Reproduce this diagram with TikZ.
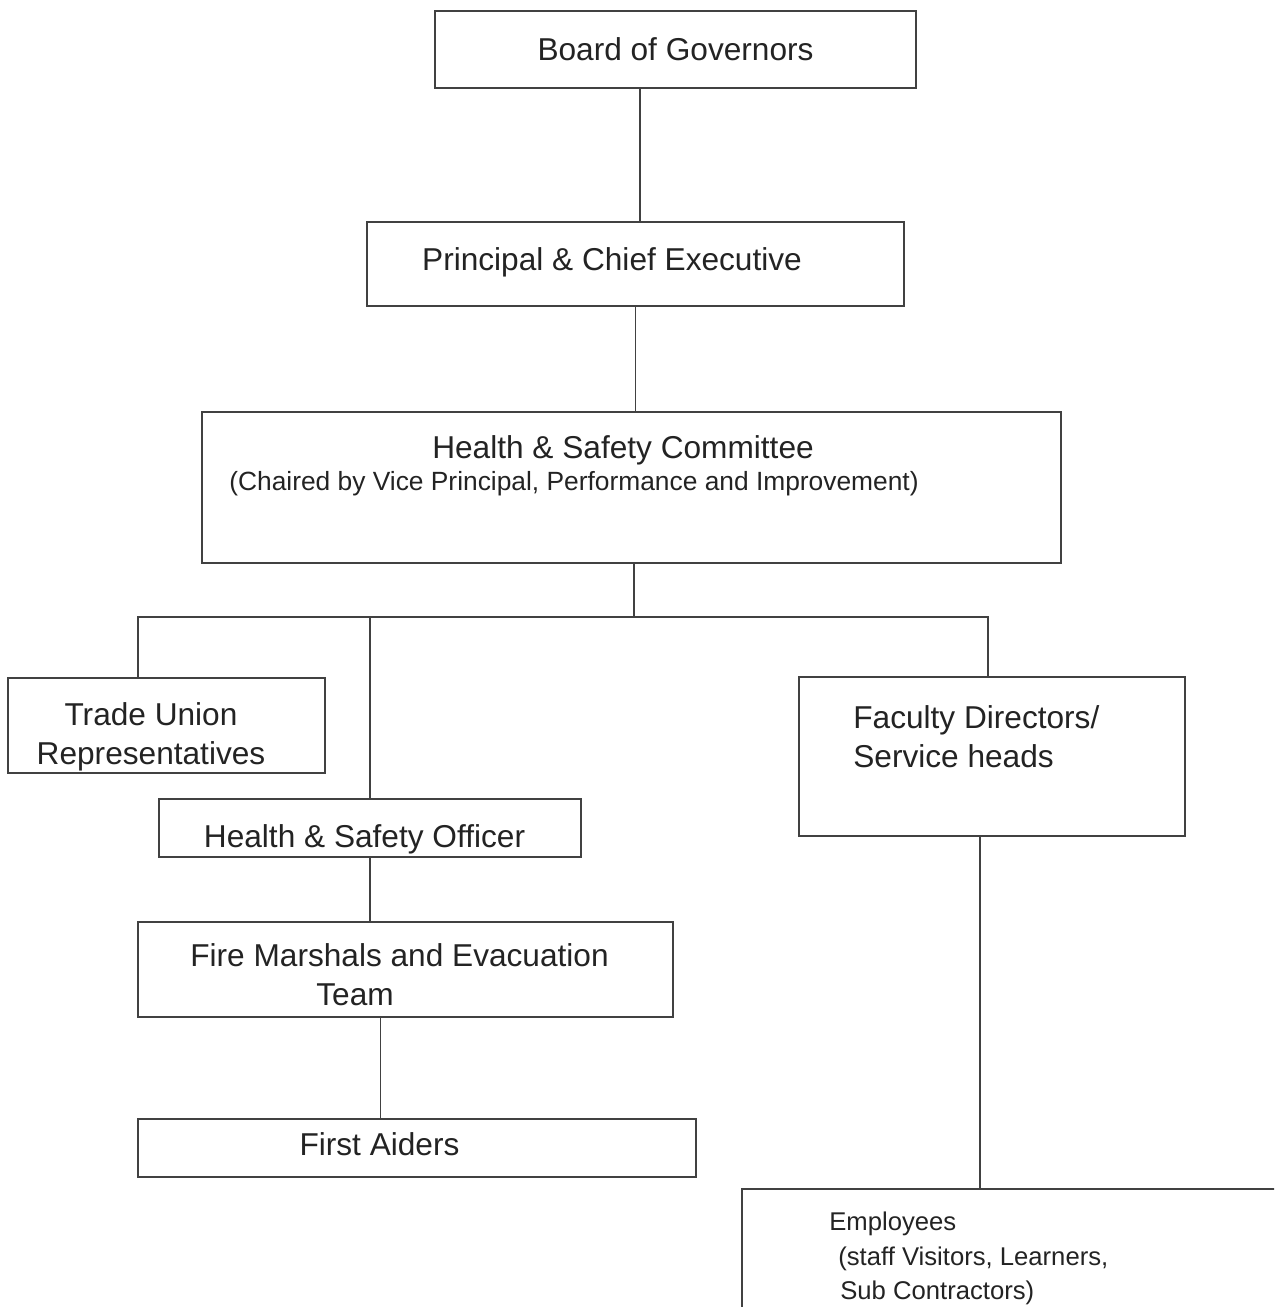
\documentclass[tikz,border=0pt]{standalone}
\usepackage{fontspec}
\setmainfont{Liberation Sans}
\usepackage{xcolor}
\usetikzlibrary{positioning}
\definecolor{linegray}{RGB}{65,65,65}
\definecolor{textgray}{RGB}{35,35,35}
\tikzset{
  box/.style={draw=linegray, line width=1.1pt, inner sep=0pt},
  lbl/.style={text=textgray, inner sep=0pt, font=\fontsize{18}{22}\selectfont},
  sublbl/.style={text=textgray, inner sep=0pt, font=\fontsize{15}{18}\selectfont},
  emplbl/.style={text=textgray, inner sep=0pt, font=\fontsize{14.6}{19.6}\selectfont},
  link/.style={draw=linegray, line width=1.1pt}
}

\begin{document}
\begin{tikzpicture}[x=0.02cm, y=-0.02cm]
\useasboundingbox (0,0) rectangle (1274,1307);
\clip (0,0) rectangle (1274,1307);

% Boxes
\node[box, minimum width=9.62cm, minimum height=1.54cm, lbl] (bog) at (675.5,49.5) {Board of Governors};
\node[box, minimum width=10.74cm, minimum height=1.68cm] (pce) at (635.5,264) {};
\node[box, minimum width=17.18cm, minimum height=3.02cm] (hsc) at (631.5,487.5) {};
\node[box, minimum width=6.34cm, minimum height=1.9cm] (tur) at (166.5,725.5) {};
\node[box, minimum width=7.72cm, minimum height=3.18cm] (fds) at (992,756.5) {};
\node[box, minimum width=8.44cm, minimum height=1.16cm] (hso) at (370,828) {};
\node[box, minimum width=10.7cm, minimum height=1.9cm] (fme) at (405.5,969.5) {};
\node[box, minimum width=11.16cm, minimum height=1.16cm] (fa) at (417,1148) {};
\node[box, minimum width=10.96cm, minimum height=2.82cm] (emp) at (1016,1259.5) {};

% Texts
\node[lbl] (pce text) at (612,262) {Principal \& Chief Executive};
\node[lbl] (hsc text) at (623,450) {Health \& Safety Committee};
\node[sublbl] (hsc sub) at (574,484) {(Chaired by Vice Principal, Performance and Improvement)};
\node[lbl, align=center] (tur text) at (151,737) {Trade Union\\Representatives};
\node[lbl, align=left, anchor=west] (fds text) at (853,736.5) {Faculty Directors/\\Service heads};
\node[lbl] (hso text) at (364.5,839) {Health \& Safety Officer};
\node[lbl, align=left, anchor=west] (fme text) at (190,974.5) {Fire Marshals and Evacuation\\\hspace*{2.52cm}Team};
\node[lbl] (fa text) at (379.5,1144) {First Aiders};
\node[emplbl, align=left, anchor=west] (emp text) at (829,1258.5) {Employees\\\hspace*{0.18cm}(staff Visitors, Learners,\\\hspace*{0.22cm}Sub Contractors)};

% Connectors
\coordinate (bus) at (634,617);
\draw[link] ([xshift=0.09cm]pce.north |- bog.south) -- ([xshift=0.09cm]pce.north);
\draw[link] (pce.south) -- (pce.south |- hsc.north);
\draw[link] (hsc.south -| bus) -- (bus);
\draw[link] ([xshift=-0.57cm]tur.north) |- (bus) -| ([xshift=-0.08cm]fds.north);
\draw[link] (hso.north) -- (hso.north |- bus);
\draw[link] (hso.south) -- (hso.south |- fme.north);
\draw[link] ([xshift=-0.5cm]fme.south) -- ([xshift=-0.5cm]fme.south |- fa.north);
\draw[link] ([xshift=-0.24cm]fds.south) -- ([xshift=-0.72cm]emp.north);
\end{tikzpicture}
\end{document}
